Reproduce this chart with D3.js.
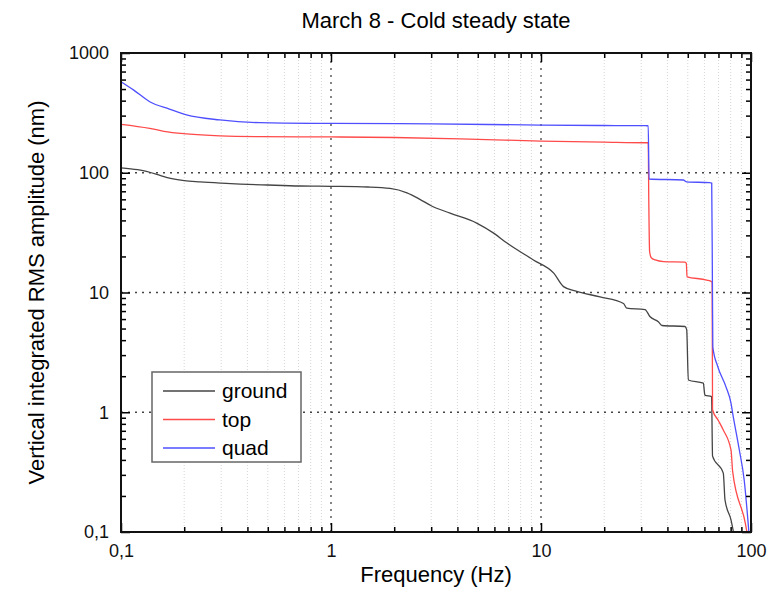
<!DOCTYPE html>
<html>
<head>
<meta charset="utf-8">
<script src="https://cdn.jsdelivr.net/npm/d3@7"></script>
<style>
  body { margin: 0; background: #fff; }
  text { font-family: "Liberation Sans", Arial, sans-serif; }
</style>
</head>
<body>
<div id="chart"></div>
<script>
// data (frequency in Hz, integrated RMS in nm)
var groundFreq = [0.1, 0.12, 0.148, 0.166, 0.2, 0.238, 0.3, 0.37, 0.5, 0.712, 1, 1.5, 1.91, 2.3, 2.65, 3.0, 3.69, 4.94, 6.0, 6.86, 9.2, 11.5, 12.8, 14.8, 19.1, 24.7, 25.6, 31.3, 33.0, 36.2, 37.7, 48.5, 49.4, 50.3, 59.3, 60.3, 64.9, 65.6, 73.8, 75.2, 80.3, 82.5];
var groundRms  = [110, 106, 97, 91, 86, 84, 82, 80.5, 79, 77.5, 77, 76, 74, 68, 60, 53, 46, 38, 31, 26, 18.7, 14.5, 11.2, 10.2, 9.2, 8.1, 7.4, 7.2, 6.3, 5.7, 5.3, 5.2, 4.9, 1.86, 1.75, 1.39, 1.35, 0.43, 0.31, 0.185, 0.126, 0.1];

var topFreq = [0.1, 0.137, 0.16, 0.205, 0.296, 0.46, 1, 2, 5, 10, 20, 31.8, 32.4, 32.6, 32.9, 33.5, 35.0, 38.4, 48.5, 49.2, 49.6, 61.6, 64.9, 65.3, 65.6, 70, 73.8, 80.3, 81.8, 94.0, 95.6];
var topRms  = [254, 235, 222, 211, 203, 200, 199, 197, 190, 184, 180, 178, 178, 60, 22, 19.5, 18.7, 18.1, 17.9, 17.5, 13.5, 12.7, 12.3, 12.2, 1.05, 0.85, 0.71, 0.484, 0.319, 0.118, 0.1];

var quadFreq = [0.1, 0.115, 0.137, 0.17, 0.205, 0.296, 0.459, 1, 3, 10, 20, 31.8, 32.4, 32.7, 47.6, 49.4, 63.5, 65.0, 65.5, 65.8, 69.5, 76.0, 80.3, 81.8, 88.0, 92.8, 97.7];
var quadRms  = [576, 490, 392, 340, 304, 276, 262, 258, 256, 250, 248, 247, 247, 88.7, 87, 84, 82.6, 82, 12, 3.5, 2.4, 1.63, 1.19, 0.98, 0.484, 0.272, 0.1];

var seriesNames = ["ground", "top", "quad"];
var seriesColors = ["#444444", "#ff4a4a", "#4f4fff"];

var xMajor = [0.1, 1, 10, 100];
var yMajor = [0.1, 1, 10, 100, 1000];

var width = 777, height = 599;
var margin = {top: 53, right: 26, bottom: 67, left: 121};

var svg = d3.select("#chart").append("svg")
    .attr("width", width)
    .attr("height", height);

var x = d3.scaleLog()
    .domain([0.1, 100])
    .range([margin.left, width - margin.right]);

var y = d3.scaleLog()
    .domain([0.1, 1000])
    .range([height - margin.bottom, margin.top]);

// minor values 2..9 in every decade
function minors(lo, hi) {
  var out = [];
  for (var d = lo; d < hi; d *= 10) {
    for (var k = 2; k < 10; k++) out.push(+(d * k).toPrecision(3));
  }
  return out;
}
var xMinor = minors(0.1, 100);
var yMinor = minors(0.1, 1000);

var commaFmt = function(d) { return String(d).replace(".", ","); };

// grid
svg.append("g")
  .selectAll("line")
  .data(xMinor)
  .enter().append("line")
    .attr("x1", x).attr("x2", x)
    .attr("y1", y(0.1)).attr("y2", y(1000))
    .attr("stroke", "#d6d6d6")
    .attr("stroke-width", 1)
    .attr("stroke-dasharray", "1,2");

svg.append("g")
  .selectAll("line")
  .data([1, 10])
  .enter().append("line")
    .attr("x1", x).attr("x2", x)
    .attr("y1", y(0.1)).attr("y2", y(1000))
    .attr("stroke", "#444")
    .attr("stroke-width", 1.3)
    .attr("stroke-dasharray", "2,5");

svg.append("g")
  .selectAll("line")
  .data([1, 10, 100])
  .enter().append("line")
    .attr("y1", y).attr("y2", y)
    .attr("x1", x(0.1)).attr("x2", x(100))
    .attr("stroke", "#444")
    .attr("stroke-width", 1.3)
    .attr("stroke-dasharray", "2,5");

// series
var line = d3.line()
    .x(function(d) { return x(d[0]); })
    .y(function(d) { return y(d[1]); })
    .curve(d3.curveMonotoneX);

var series = [
  d3.zip(groundFreq, groundRms),
  d3.zip(topFreq, topRms),
  d3.zip(quadFreq, quadRms)
];

svg.append("g")
  .selectAll("path")
  .data(series)
  .enter().append("path")
    .attr("d", line)
    .attr("fill", "none")
    .attr("stroke", function(d, i) { return seriesColors[i]; })
    .attr("stroke-width", 1.3);

// axes, ticks pointing inward
function drawAxis(axisFn, scale, transform, major, minor, labels) {
  svg.append("g")
      .attr("transform", transform)
      .call(axisFn(scale).tickValues(minor).tickSize(-5).tickFormat(""))
      .call(function(g) { g.select(".domain").remove(); })
      .selectAll("line").attr("stroke-width", 1.5);
  var g = svg.append("g")
      .attr("transform", transform)
      .call(axisFn(scale).tickValues(major).tickSize(-9).tickPadding(labels ? 12 : 0)
        .tickFormat(labels ? commaFmt : ""));
  g.select(".domain").remove();
  g.selectAll("line").attr("stroke-width", 1.5);
  g.selectAll("text")
    .style("font-family", "'Liberation Sans', Arial, sans-serif")
    .style("font-size", "18px")
    .attr("fill", "#111");
}

drawAxis(d3.axisBottom, x, "translate(0," + y(0.1) + ")", xMajor, xMinor, true);
drawAxis(d3.axisTop, x, "translate(0," + y(1000) + ")", xMajor, xMinor, false);
drawAxis(d3.axisLeft, y, "translate(" + x(0.1) + ",0)", yMajor, yMinor, true);
drawAxis(d3.axisRight, y, "translate(" + x(100) + ",0)", yMajor, yMinor, false);

svg.append("rect")
    .attr("x", x(0.1))
    .attr("y", y(1000))
    .attr("width", x(100) - x(0.1))
    .attr("height", y(0.1) - y(1000))
    .attr("fill", "none")
    .attr("stroke", "#111")
    .attr("stroke-width", 2);

// titles
svg.append("text")
    .attr("x", (x(0.1) + x(100)) / 2)
    .attr("y", 28)
    .attr("text-anchor", "middle")
    .style("font-size", "22px")
    .text("March 8 - Cold steady state");

svg.append("text")
    .attr("x", (x(0.1) + x(100)) / 2)
    .attr("y", 582)
    .attr("text-anchor", "middle")
    .style("font-size", "22px")
    .text("Frequency (Hz)");

svg.append("text")
    .attr("transform", "translate(44," + (y(0.1) + y(1000)) / 2 + ")rotate(-90)")
    .attr("text-anchor", "middle")
    .style("font-size", "22px")
    .text("Vertical integrated RMS amplitude (nm)");

// legend
var legend = svg.append("g").attr("transform", "translate(152,372)");
legend.append("rect")
    .attr("width", 149)
    .attr("height", 90)
    .attr("fill", "#fff")
    .attr("stroke", "#666")
    .attr("stroke-width", 1.5);

var item = legend.selectAll("g.item")
  .data(seriesNames)
  .enter().append("g")
    .attr("class", "item")
    .attr("transform", function(d, i) { return "translate(0," + (19 + i * 28.5) + ")"; });

item.append("line")
    .attr("x1", 11).attr("x2", 63)
    .attr("stroke", function(d, i) { return seriesColors[i]; })
    .attr("stroke-width", 1.3);

item.append("text")
    .attr("x", 70)
    .attr("dy", "0.35em")
    .style("font-size", "21px")
    .text(function(d) { return d; });
</script>
</body>
</html>
